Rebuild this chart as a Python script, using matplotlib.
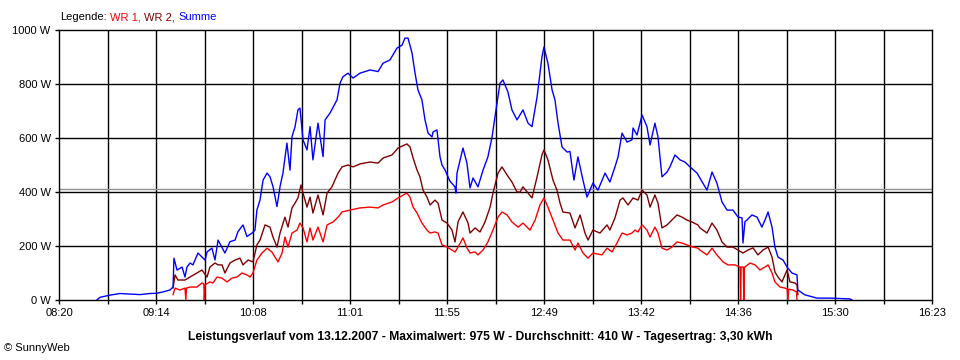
import matplotlib
matplotlib.use("Agg")
import matplotlib.pyplot as plt

# ---- data (minutes after midnight, watts) ----
sum_t = [520.9, 522.7, 528.2, 533.7, 539.3, 544.8, 550.3, 554.2, 557.5, 561.4, 563.1,
         563.6, 565.3, 568.1, 569.7, 570.8, 572.5, 574.1, 576.9, 579.1, 580.8, 581.9,
         584.6, 586.3, 588.0, 591.8, 594.6, 597.4, 599.0, 601.8, 604.0, 606.8, 608.4,
         609.5, 611.2, 612.9, 615.1, 616.7, 618.4, 620.6, 622.3, 623.9, 626.1, 627.8,
         628.9, 630.6, 632.2, 633.3, 635.0, 637.2, 638.9, 640.5, 643.3, 646.1, 647.2,
         649.9, 653.8, 655.5, 657.1, 659.9, 662.7, 666.5, 672.1, 676.5, 679.3, 683.1,
         687.0, 689.8, 691.4, 693.1, 695.3, 697.0, 698.6, 700.8, 702.5, 704.2, 706.4,
         706.9, 709.1, 710.8, 711.9, 713.6, 716.3, 719.1, 719.6, 720.2, 723.5, 725.7,
         727.4, 729.1, 731.8, 734.6, 737.3, 739.6, 741.2, 744.0, 745.6, 748.4, 750.6,
         753.4, 756.7, 759.5, 761.7, 764.5, 767.2, 768.3, 770.5, 772.8, 774.4, 776.1,
         778.3, 781.1, 782.7, 784.9, 787.1, 789.9, 792.1, 795.4, 798.2, 802.1, 804.8,
         807.6, 809.3, 811.5, 814.3, 817.0, 817.6, 819.8, 822.6, 825.3, 827.0, 829.7,
         831.4, 833.6, 836.4, 838.0, 840.8, 843.6, 846.3, 849.1, 853.0, 858.5, 861.3,
         864.0, 866.8, 869.6, 872.9, 875.7, 877.9, 878.4, 879.5, 880.6, 883.4, 886.2,
         888.9, 890.6, 892.3, 894.5, 896.1, 897.8, 900.6, 902.8, 905.5, 908.3, 908.8,
         912.7, 919.4, 926.6, 937.6, 938.7]
sum_w = [0, 10, 18, 24, 22, 20, 24, 25, 30, 37, 48,
         155, 111, 122, 85, 122, 137, 130, 174, 159, 148, 178,
         192, 148, 222, 174, 216, 222, 253, 278, 235, 248, 259,
         333, 370, 444, 470, 457, 420, 346, 420, 470, 581, 481,
         605, 642, 704, 711, 593, 556, 642, 519, 655, 531, 667,
         692, 741, 803, 827, 840, 822, 840, 852, 846, 877, 889,
         933, 944, 970, 970, 915, 840, 778, 741, 667, 618, 604,
         622, 630, 530, 500, 481, 440, 419, 396, 470, 563, 507,
         415, 452, 419, 481, 530, 604, 678, 803, 815, 770, 704,
         667, 704, 655, 642, 752, 900, 937, 877, 778, 741, 655,
         567, 548, 550, 444, 530, 444, 381, 433, 407, 470, 437,
         493, 530, 618, 585, 593, 637, 611, 685, 642, 574, 655,
         604, 456, 474, 493, 537, 519, 511, 493, 470, 407, 474,
         433, 363, 333, 333, 307, 304, 211, 290, 296, 315, 307,
         270, 296, 326, 270, 196, 159, 148, 122, 100, 93, 37,
         19, 7, 7, 4, 0]

wr2_t = [563.1, 564.2, 565.8, 569.7, 572.5, 576.3, 579.1, 581.9, 583.5, 586.3, 588.0,
         590.2, 591.8, 594.6, 597.4, 600.1, 601.8, 604.6, 607.3, 609.5, 611.2, 614.0,
         616.7, 618.4, 620.6, 622.3, 625.0, 626.7, 628.9, 630.6, 632.2, 633.9, 635.0,
         637.2, 638.9, 640.5, 643.3, 646.1, 648.3, 651.0, 654.4, 656.6, 659.9, 662.7,
         666.5, 672.1, 676.5, 679.3, 684.2, 687.6, 692.5, 694.2, 695.9, 698.1, 699.7,
         701.4, 703.6, 705.3, 708.0, 709.7, 711.9, 714.7, 717.4, 719.1, 720.8, 723.5,
         726.3, 727.4, 730.2, 732.9, 735.7, 738.5, 740.1, 742.9, 745.1, 747.9, 750.6,
         753.4, 755.1, 756.7, 759.5, 761.7, 764.5, 767.2, 768.3, 770.5, 773.3, 775.5,
         777.2, 778.8, 782.7, 785.5, 788.3, 791.0, 792.7, 795.4, 799.3, 803.2, 804.8,
         807.6, 810.4, 812.0, 814.8, 817.6, 820.3, 822.6, 825.3, 827.0, 829.7, 831.4,
         833.6, 836.4, 839.1, 841.9, 844.7, 847.4, 850.2, 853.5, 854.6, 858.5, 861.3,
         864.0, 866.8, 869.6, 872.9, 875.7, 878.4, 881.2, 884.0, 886.7, 889.5, 892.3,
         894.5, 896.1, 897.8, 900.0, 902.8, 904.4, 907.2, 908.3, 908.8]
wr2_w = [45, 93, 74, 74, 85, 100, 111, 85, 122, 137, 130,
         130, 100, 137, 148, 155, 130, 148, 141, 204, 222, 278,
         270, 233, 196, 248, 307, 270, 341, 359, 378, 426, 396,
         344, 381, 322, 389, 315, 396, 419, 470, 493, 500, 493,
         504, 511, 507, 526, 537, 563, 578, 567, 526, 481, 456,
         407, 381, 352, 370, 359, 296, 285, 259, 215, 290, 326,
         285, 248, 267, 252, 289, 344, 396, 470, 493, 463, 437,
         400, 400, 419, 396, 378, 456, 537, 556, 519, 444, 407,
         359, 326, 322, 267, 315, 248, 222, 259, 248, 278, 259,
         304, 370, 378, 352, 378, 370, 407, 389, 344, 389, 359,
         267, 278, 296, 315, 307, 296, 289, 278, 267, 248, 285,
         259, 215, 196, 196, 185, 174, 185, 193, 167, 185, 196,
         159, 104, 85, 67, 111, 67, 63, 56, 20]

wr1_t = [563.1, 564.2, 566.9, 569.7, 570.2, 570.5, 572.5, 576.3, 579.1, 580.1, 580.4,
         580.8, 583.5, 585.2, 587.4, 590.2, 592.9, 595.7, 598.5, 601.2, 604.0, 605.7,
         607.3, 609.5, 612.3, 615.1, 617.8, 619.5, 621.2, 623.4, 625.0, 626.7, 628.9,
         631.7, 633.3, 635.0, 637.2, 638.9, 640.5, 643.3, 646.1, 648.3, 651.6, 654.4,
         656.6, 661.0, 666.5, 672.1, 676.5, 679.3, 684.2, 687.6, 692.5, 694.2, 695.9,
         698.1, 700.8, 703.6, 705.3, 708.0, 709.7, 711.9, 714.7, 717.4, 719.1, 720.8,
         723.5, 725.7, 727.4, 730.2, 731.8, 734.6, 737.3, 740.1, 742.9, 745.1, 747.9,
         750.6, 754.0, 756.7, 760.6, 763.4, 766.1, 768.3, 770.5, 773.3, 776.1, 778.8,
         782.7, 785.5, 787.1, 789.9, 792.7, 795.4, 800.4, 803.2, 806.0, 808.7, 811.5,
         814.3, 817.0, 818.7, 820.3, 822.6, 825.3, 827.0, 829.7, 831.4, 833.6, 836.4,
         839.1, 841.9, 844.7, 847.4, 850.8, 853.5, 854.6, 858.5, 861.3, 864.0, 867.4,
         870.1, 874.0, 876.8, 877.1, 877.4, 878.6, 878.9, 879.2, 879.5, 882.3, 885.1,
         887.8, 890.6, 892.3, 894.5, 896.1, 898.9, 901.7, 902.9, 903.3, 903.7, 906.1,
         908.0, 908.3]
wr1_w = [20, 44, 37, 44, 0, 44, 48, 48, 63, 60, 0,
         56, 67, 63, 85, 81, 67, 81, 85, 100, 93, 85,
         100, 148, 174, 192, 178, 159, 141, 174, 233, 196, 248,
         259, 285, 267, 215, 267, 222, 270, 215, 278, 289, 307,
         326, 333, 341, 344, 341, 352, 363, 378, 396, 381, 344,
         322, 285, 259, 248, 252, 248, 204, 196, 185, 178, 196,
         230, 193, 174, 178, 167, 185, 215, 259, 307, 326, 315,
         289, 270, 285, 259, 296, 352, 378, 344, 296, 248, 222,
         222, 185, 211, 174, 155, 174, 167, 192, 178, 211, 248,
         241, 248, 259, 252, 278, 259, 233, 270, 248, 192, 185,
         196, 215, 211, 204, 196, 192, 185, 167, 192, 167, 141,
         130, 130, 122, 0, 122, 122, 0, 122, 122, 137, 130,
         111, 122, 130, 100, 67, 48, 44, 40, 0, 40, 37,
         30, 0]

avg_w = 410
y_ticks = [0, 200, 400, 600, 800, 1000]
y_labels = ["0 W", "200 W", "400 W", "600 W", "800 W", "1000 W"]
x_labels = ["08:20", "09:14", "10:08", "11:01", "11:55", "12:49", "13:42", "14:36", "15:30", "16:23"]
t_start, t_end = 500, 983

title = ("Leistungsverlauf vom 13.12.2007 - Maximalwert: 975 W - "
         "Durchschnitt: 410 W - Tagesertrag: 3,30 kWh")
legend_parts = [("Legende:", "black"), ("WR 1,", "#FF0000"), ("WR 2,", "#800000"), ("Summe", "#0000FF")]

plt.rcParams['font.family'] = ['Liberation Sans', 'DejaVu Sans']

fig = plt.figure(figsize=(9.6, 3.6), dpi=100)
fig.patch.set_facecolor("white")
ax = fig.add_axes([59/960, 60/360, (932-59)/960, 270/360])

ax.set_xlim(t_start, t_end)
ax.set_ylim(0, 1000)

n_grid = 18
grid_pos = [t_start + i*(t_end - t_start)/n_grid for i in range(n_grid + 1)]
for g in grid_pos[1:-1]:
    ax.axvline(g, color="black", lw=1.0, zorder=1)
for yv in y_ticks[1:-1]:
    ax.axhline(yv, color="black", lw=1.0, zorder=1)
ax.axhline(avg_w, color="#909090", lw=1.0, zorder=1.5)

ax.plot(wr1_t, wr1_w, color="#FF0000", lw=1.0, zorder=3)
ax.plot(wr2_t, wr2_w, color="#800000", lw=1.0, zorder=4)
ax.plot(sum_t, sum_w, color="#0000FF", lw=1.0, zorder=5)

ax.set_yticks(y_ticks)
ax.set_yticklabels(y_labels, fontsize=8)
ax.set_xticks(grid_pos)
ax.set_xticklabels([x_labels[i//2] if i % 2 == 0 else "" for i in range(n_grid + 1)], fontsize=8)
ax.tick_params(axis="both", direction="out", length=3, width=1, color="black", pad=3)
for s in ax.spines.values():
    s.set_color("black")
    s.set_linewidth(1.0)

fig.text(0.5, 1 - 337/360, title, ha="center", va="center", fontsize=8.7, fontweight="bold")
fig.text(4/960, 1 - 348/360, "\u00a9 SunnyWeb", ha="left", va="center", fontsize=8)

# legend: consecutive coloured words
renderer = fig.canvas.get_renderer()
ly = 1 - 17/360
x_px = 60.0
for txt, col in legend_parts:
    t = fig.text(x_px/960, ly, txt, color=col, fontsize=8, va="center", ha="left")
    bb = t.get_window_extent(renderer)
    x_px = bb.x1 + 3.5

fig.savefig("out.png", dpi=100, facecolor="white")
